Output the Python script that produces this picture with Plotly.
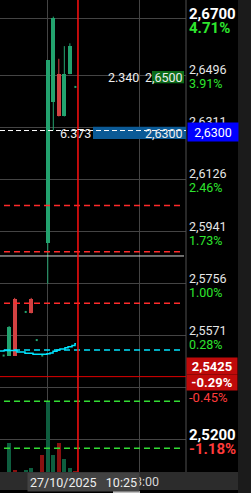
import plotly.graph_objects as go

W, H = 251, 493

# ---------------- data ----------------
ref_price = 2.55                      # previous close (0 %)
slots  = [0, 1, 2, 4, 5, 6, 7, 8, 9, 10, 11, 12, 13]
opens  = [2.5500, 2.5500, 2.5700, 2.5655, 2.5700, 2.5555, 2.5500, 2.5900, 2.6400, 2.6500, 2.6350, 2.6500, 2.6455]
highs  = [2.5500, 2.5605, 2.5705, 2.5655, 2.5705, 2.5555, 2.5500, 2.6550, 2.6705, 2.6555, 2.6600, 2.6610, 2.6455]
lows   = [2.5500, 2.5500, 2.5500, 2.5655, 2.5650, 2.5555, 2.5500, 2.5755, 2.6300, 2.6350, 2.6350, 2.6500, 2.6455]
closes = [2.5500, 2.5600, 2.5500, 2.5655, 2.5650, 2.5555, 2.5500, 2.6550, 2.6700, 2.6350, 2.6500, 2.6600, 2.6455]
volumes = [0, 29, 2, 2, 4, 0, 17, 71, 17, 29, 13, 4, 1]          # thousands
vol_side = ["up", "up", "down", "up", "up", "up", "down", "up", "up", "down", "up", "up", "down"]
volume_levels = [70.7, 23.7]

ind_slots = [-0.66, 0.07, 2.42, 3.87, 5.32, 7.86, 8.40, 8.95, 9.67, 10.21, 11.12, 11.67, 12.39, 12.93, 13.11]
ind_vals  = [2.5516, 2.5518, 2.5513, 2.5508, 2.5505, 2.5506, 2.5509, 2.5515, 2.5520,
             2.5523, 2.5528, 2.5531, 2.5536, 2.5542, 2.5542]

grid_prices = [2.6700, 2.6496, 2.6311, 2.6126, 2.5941, 2.5756, 2.5571, 2.5386, 2.5200]
tick_prices = [2.6496, 2.6126, 2.5941, 2.5756, 2.5571]
tick_price_text = ["2,6496", "2,6126", "2,5941", "2,5756", "2,5571"]
tick_pct_text = ["3.91%", "2.46%", "1.73%", "1.00%", "0.28%"]

high_price, high_text, high_pct = 2.6700, "2,6700", "4.71%"
low_price, low_text, low_pct = 2.5200, "2,5200", "-1.18%"
last_price, last_text, last_pct = 2.5425, "2,5425", "-0.29%"
minus045_price, minus045_text = 2.5386, "-0.45%"
position_price, position_text, position_qty = 2.6300, "2,6300", "6.373"
order_price, order_text, order_qty = 2.6500, "2,6500", "2.340"
red_levels = [2.6033, 2.5869, 2.5686]
white_level = 2.5854
cyan_level = 2.5520
current_slot = 13.47
time_tick_slots = [7.86, 24.7]
visible_time_slot, visible_time_text = 24.7, "13:00"
crosshair_text = "27/10/2025\u00a0\u00a0\u00a010:25"

# ---------------- style ----------------
UP, DOWN = "#23a36f", "#d24242"
VUP, VDOWN = "#0e5e3f", "#8a1010"
GRID = "#444444"
FONT = "Roboto"
X_RANGE = [-0.656, 33.04]
Y_RANGE = [2.5086, 2.6764]
PLOT_RIGHT = 186
PLOT_BOTTOM = 472


def px(x):
    return x / W


def py(y):
    return 1 - y / H


fig = go.Figure()

# volume
fig.add_trace(go.Bar(
    x=slots, y=volumes, yaxis="y2", width=0.72,
    marker=dict(color=[VUP if s == "up" else VDOWN for s in vol_side], line_width=0),
    hoverinfo="skip"))

# wicks
for col, cond in ((UP, lambda o, c: c >= o), (DOWN, lambda o, c: c < o)):
    wx, wy = [], []
    for s, o, h, l, c in zip(slots, opens, highs, lows, closes):
        if h != l and cond(o, c):
            wx += [s, s, None]
            wy += [l, h, None]
    fig.add_trace(go.Scatter(x=wx, y=wy, mode="lines", line=dict(color=col, width=1),
                             hoverinfo="skip"))

# bodies
bx, bb, bh, bc = [], [], [], []
dx, dy = [], []
for s, o, c in zip(slots, opens, closes):
    if o == c:
        dx.append(s)
        dy.append(c)
    else:
        bx.append(s)
        bb.append(min(o, c))
        bh.append(abs(c - o))
        bc.append(UP if c > o else DOWN)
fig.add_trace(go.Bar(x=bx, y=bh, base=bb, width=0.72,
                     marker=dict(color=bc, line_width=0), hoverinfo="skip"))
fig.add_trace(go.Scatter(x=dx, y=dy, mode="markers",
                         marker=dict(symbol="square", size=2, color=UP, line_width=0),
                         hoverinfo="skip"))

# indicator step line
fig.add_trace(go.Scatter(x=ind_slots, y=ind_vals, mode="lines", line_shape="hv",
                         line=dict(color="#00e5ff", width=1.5), hoverinfo="skip"))

shapes = []
# right column & bottom strip
shapes.append(dict(type="rect", xref="paper", yref="paper", x0=px(238), x1=1, y0=0, y1=1,
                   fillcolor="#1b1b1b", line_width=0, layer="below"))
shapes.append(dict(type="rect", xref="paper", yref="paper", x0=0, x1=px(238), y0=py(490), y1=py(PLOT_BOTTOM),
                   fillcolor="#2c2c2c", line_width=0))
shapes.append(dict(type="rect", xref="paper", yref="paper", x0=px(113), x1=px(140), y0=py(493), y1=py(491),
                   fillcolor="#bdbdbd", line_width=0))
# axis border
shapes.append(dict(type="line", xref="paper", yref="paper", x0=px(PLOT_RIGHT), x1=px(PLOT_RIGHT),
                   y0=py(PLOT_BOTTOM), y1=1, line=dict(color="#505050", width=1)))
# position box in plot + order box
shapes.append(dict(type="rect", xref="paper", yref="paper", x0=px(93), x1=px(PLOT_RIGHT),
                   y0=py(139), y1=py(126.7), fillcolor="#0b5a96", line_width=0))
shapes.append(dict(type="rect", xref="paper", yref="paper", x0=px(152), x1=px(184),
                   y0=py(83.3), y1=py(71), fillcolor="#0b6b18", line_width=0))
# horizontal levels
shapes.append(dict(type="line", xref="paper", yref="y", x0=0, x1=px(PLOT_RIGHT),
                   y0=position_price, y1=position_price, line=dict(color="#ffffff", width=1, dash="5px,3px")))
for lv in red_levels:
    shapes.append(dict(type="line", xref="paper", yref="y", x0=px(4), x1=px(180),
                       y0=lv, y1=lv, line=dict(color="#ff2a2a", width=1.5, dash="6px,4px")))
shapes.append(dict(type="line", xref="paper", yref="y", x0=0, x1=px(184),
                   y0=white_level, y1=white_level, line=dict(color="#d8d8d8", width=1)))
shapes.append(dict(type="line", xref="paper", yref="y", x0=px(4), x1=px(180),
                   y0=cyan_level, y1=cyan_level, line=dict(color="#00e5ff", width=1.5, dash="6px,4px")))
shapes.append(dict(type="line", xref="paper", yref="y", x0=0, x1=px(PLOT_RIGHT),
                   y0=last_price, y1=last_price, line=dict(color="#e00000", width=1)))
for lv in volume_levels:
    shapes.append(dict(type="line", xref="paper", yref="y2", x0=px(4), x1=px(180),
                       y0=lv, y1=lv, line=dict(color="#33dd33", width=1.5, dash="6px,4px")))
# current-time vertical line
shapes.append(dict(type="line", xref="x", yref="paper", x0=current_slot, x1=current_slot,
                   y0=py(PLOT_BOTTOM), y1=1, line=dict(color="#ff1010", width=1.5)))

ann = []


def label(text, y, yshift, size=12.5, color="#e6e6e6", bold=False, yref="y"):
    t = f"<b>{text}</b>" if bold else text
    ann.append(dict(text=t, xref="paper", yref=yref, x=px(187), y=y, xanchor="left",
                    yanchor="middle", yshift=yshift, showarrow=False,
                    font=dict(family=FONT, size=size, color=color)))


GREEN_TXT = "#2ee62e"
RED_TXT = "#ff3b3b"
label(high_text, high_price, 4.5, size=15, color="#ffffff", bold=True)
label(high_pct, high_price, -9.7, size=15, color=GREEN_TXT, bold=True)
for p, t, pc in zip(tick_prices, tick_price_text, tick_pct_text):
    label(t, p, 5.5)
    label(pc, p, -8.5, color=GREEN_TXT)
label("2,6311", 2.6311, 6.4)
label(minus045_text, minus045_price, -9.4, size=13, color=RED_TXT)
label(low_text, low_price, 4.5, size=15, color="#ffffff", bold=True)
label(low_pct, low_price, -9, size=15, color=RED_TXT, bold=True)


def box(text, xc, yc, w, h, bg, size=12.5, bold=False, color="#ffffff", align="center"):
    t = f"<b>{text}</b>" if bold else text
    ann.append(dict(text=t, xref="paper", yref="paper", x=px(xc), y=py(yc), xanchor="center",
                    yanchor="middle", width=w, height=h, bgcolor=bg, borderpad=0, align=align,
                    showarrow=False, font=dict(family=FONT, size=size, color=color)))


box(position_text, 213, 132, 50, 18, "#0000ff")
box(last_text, 212, 366, 50, 16, "#bf0a0a", size=13, bold=True)
box(last_pct, 212, 382, 50, 15, "#bf0a0a", size=13, bold=True)

# in-plot texts
ann.append(dict(text=position_qty, xref="paper", yref="paper", x=px(75.5), y=py(133.8),
                xanchor="center", yanchor="middle", showarrow=False,
                font=dict(family=FONT, size=12.5, color="#eeeeee")))
ann.append(dict(text=position_text, xref="paper", yref="paper", x=px(185), y=py(133),
                xanchor="right", yanchor="middle", showarrow=False,
                font=dict(family=FONT, size=12.5, color="#eeeeee")))
ann.append(dict(text=order_qty, xref="paper", yref="paper", x=px(123), y=py(77),
                xanchor="center", yanchor="middle", showarrow=False,
                font=dict(family=FONT, size=12.5, color="#eeeeee")))
ann.append(dict(text=order_text, xref="paper", yref="paper", x=px(185), y=py(77),
                xanchor="right", yanchor="middle", showarrow=False,
                font=dict(family=FONT, size=12.5, color="#eeeeee")))

# time label (partly hidden behind the crosshair box, as in the reference)
ann.append(dict(text=visible_time_text, xref="x", yref="paper", x=visible_time_slot, y=py(481),
                xanchor="center", yanchor="middle", xshift=3.5, showarrow=False,
                font=dict(family=FONT, size=12.5, color="#d6d6d6")))
box(crosshair_text, 83.5, 482, 111, 18, "#424242", size=12.5, color="#eeeeee")

fig.update_layout(
    width=W, height=H, margin=dict(l=0, r=0, t=0, b=0),
    paper_bgcolor="#000000", plot_bgcolor="#000000",
    showlegend=False, barmode="overlay", bargap=0,
    xaxis=dict(domain=[0, px(PLOT_RIGHT)], range=X_RANGE, tickvals=time_tick_slots,
               showticklabels=False, showgrid=True, gridcolor=GRID, gridwidth=1,
               zeroline=False, showline=False, fixedrange=True),
    yaxis=dict(domain=[1 - PLOT_BOTTOM / H, 1], range=Y_RANGE, tickvals=grid_prices,
               showticklabels=False, showgrid=True, gridcolor=GRID, gridwidth=1,
               zeroline=False, showline=False, fixedrange=True),
    yaxis2=dict(overlaying="y", range=[0, PLOT_BOTTOM], visible=False, fixedrange=True),
    shapes=shapes, annotations=ann,
)

fig.write_html("out.html", config=dict(displayModeBar=False))
